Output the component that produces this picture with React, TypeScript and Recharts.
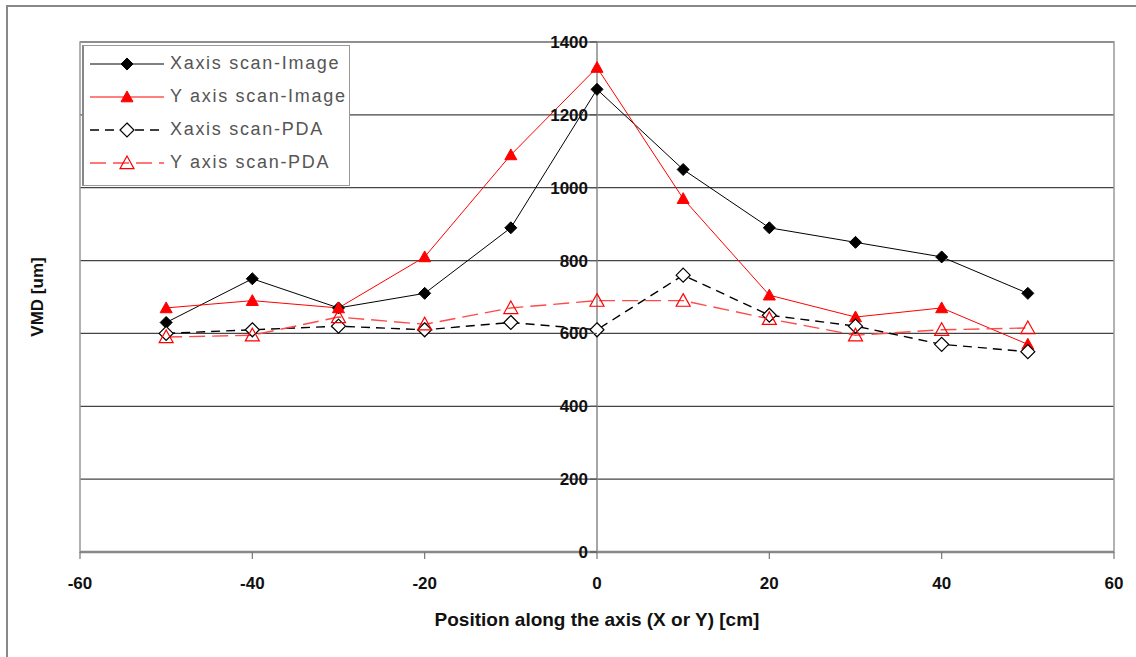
import React from 'react';
import {
  LineChart,
  Line,
  XAxis,
  YAxis,
  CartesianGrid,
  ReferenceLine,
  ReferenceArea,
} from 'recharts';

const positions = [-50, -40, -30, -20, -10, 0, 10, 20, 30, 40, 50];
const xScanImage = [630, 750, 670, 710, 890, 1270, 1050, 890, 850, 810, 710];
const yScanImage = [670, 690, 670, 810, 1090, 1330, 970, 705, 645, 670, 570];
const xScanPda = [600, 610, 620, 610, 630, 610, 760, 650, 620, 570, 550];
const yScanPda = [590, 595, 645, 625, 670, 690, 690, 640, 595, 610, 615];

const xTicks = [-60, -40, -20, 0, 20, 40, 60];
const yTicks = [0, 200, 400, 600, 800, 1000, 1200, 1400];

const data = positions.map((p, i) => ({
  pos: p,
  xImg: xScanImage[i],
  yImg: yScanImage[i],
  xPda: xScanPda[i],
  yPda: yScanPda[i],
}));

const FONT = '"Liberation Sans", Arial, sans-serif';
const CENTER_X = 597; // pixel of x = 0, where the value axis crosses

const Diamond = ({ cx, cy, filled, size }: any) => {
  if (cx == null || cy == null) return null;
  const r = size;
  return (
    <path
      d={`M${cx},${cy - r}L${cx + r},${cy}L${cx},${cy + r}L${cx - r},${cy}Z`}
      fill={filled ? '#000' : '#fff'}
      stroke="#000"
      strokeWidth={filled ? 1 : 1.2}
    />
  );
};

const Triangle = ({ cx, cy, filled, size }: any) => {
  if (cx == null || cy == null) return null;
  const r = size;
  return (
    <path
      d={`M${cx},${cy - r}L${cx + r},${cy + r * 0.8}L${cx - r},${cy + r * 0.8}Z`}
      fill={filled ? '#ff0000' : 'none'}
      stroke="#ff0000"
      strokeWidth={filled ? 1 : 1.2}
    />
  );
};

const series = [
  { key: 'xImg', name: 'Xaxis scan-Image', color: '#000', dash: undefined, width: 1, shape: 'd', filled: true, size: 6 },
  { key: 'yImg', name: 'Y axis scan-Image', color: '#ff0000', dash: undefined, width: 1, shape: 't', filled: true, size: 6 },
  { key: 'xPda', name: 'Xaxis scan-PDA', color: '#000', dash: '9 6', width: 1.4, shape: 'd', filled: false, size: 7 },
  { key: 'yPda', name: 'Y axis scan-PDA', color: '#ff4a4a', dash: '16 7', width: 1.4, shape: 't', filled: false, size: 7 },
];

const marker = (s: any) => (props: any) =>
  s.shape === 'd' ? (
    <Diamond key={`${s.key}-${props.index}`} cx={props.cx} cy={props.cy} filled={s.filled} size={s.size} />
  ) : (
    <Triangle key={`${s.key}-${props.index}`} cx={props.cx} cy={props.cy} filled={s.filled} size={s.size} />
  );

const LegendBox = () => (
  <div
    style={{
      position: 'absolute',
      left: 82,
      top: 45,
      width: 268,
      height: 141,
      border: '1px solid #999',
      borderLeft: '2px solid #888',
      background: '#fff',
      boxSizing: 'border-box',
      fontFamily: FONT,
    }}
  >
    {series.map((s) => (
      <div key={s.key} style={{ display: 'flex', alignItems: 'center', height: 33, marginTop: s.key === 'xImg' ? 1 : 0 }}>
        <svg width={80} height={20} style={{ marginLeft: 6 }}>
          <line x1={0} y1={10} x2={74} y2={10} stroke={s.color} strokeWidth={s.width} strokeDasharray={s.dash} />
          {s.shape === 'd' ? (
            <Diamond cx={37} cy={10} filled={s.filled} size={s.size} />
          ) : (
            <Triangle cx={37} cy={10} filled={s.filled} size={s.size} />
          )}
        </svg>
        <span style={{ fontSize: 18, color: '#555', letterSpacing: 1.7, marginLeft: 0 }}>{s.name}</span>
      </div>
    ))}
  </div>
);

const YTick = ({ y, payload }: any) => (
  <g>
    <line x1={CENTER_X - 7} y1={y} x2={CENTER_X} y2={y} stroke="#555" strokeWidth={1.2} />
    <text x={CENTER_X - 9} y={y} dy={6} textAnchor="end" fontSize={17} fontWeight="bold" fontFamily={FONT} fill="#111">
      {payload.value}
    </text>
  </g>
);

export default function App() {
  return (
    <div
      style={{
        position: 'absolute',
        left: 0,
        top: 0,
        width: 1136,
        height: 657,
        background: '#fff',
        overflow: 'hidden',
      }}
    >
      <div
        style={{
          position: 'absolute',
          left: 6,
          top: 5,
          width: 1140,
          height: 660,
          borderTop: '2px solid #888',
          borderLeft: '2px solid #888',
        }}
      />
      <LineChart
        width={1136}
        height={657}
        data={data}
        margin={{ top: 42, right: 22, bottom: 35, left: 0 }}
        style={{ position: 'absolute', left: 0, top: 0 }}
      >
        <CartesianGrid vertical={false} stroke="#444" strokeWidth={1.3} />
        <ReferenceArea x1={-60} x2={60} y1={0} y2={1400} fill="none" stroke="#999" strokeWidth={1.5} ifOverflow="visible" />
        <ReferenceLine x={0} stroke="#888" strokeWidth={1.5} />
        <XAxis
          dataKey="pos"
          type="number"
          domain={[-60, 60]}
          ticks={xTicks}
          height={70}
          axisLine={{ stroke: '#888', strokeWidth: 2.5 }}
          tickLine={{ stroke: '#777', strokeWidth: 1.2 }}
          tickSize={7}
          tickMargin={18}
          tick={{ fontSize: 17, fontFamily: FONT, fill: '#111', fontWeight: 'bold' }}
          label={{
            value: 'Position along the axis (X or Y) [cm]',
            position: 'insideBottom',
            offset: -4,
            fontSize: 19,
            fontWeight: 'bold',
            fontFamily: FONT,
            fill: '#111',
          }}
        />
        <YAxis
          type="number"
          domain={[0, 1400]}
          ticks={yTicks}
          width={80}
          axisLine={false}
          tickLine={false}
          tick={<YTick />}
          label={{
            value: 'VMD [um]',
            angle: -90,
            position: 'insideLeft',
            dx: 32,
            fontSize: 17,
            fontWeight: 'bold',
            fontFamily: FONT,
            fill: '#111',
            style: { textAnchor: 'middle' },
          }}
        />
        {series.map((s) => (
          <Line
            key={s.key}
            dataKey={s.key}
            name={s.name}
            stroke={s.color}
            strokeWidth={s.width}
            strokeDasharray={s.dash}
            dot={marker(s)}
            activeDot={false}
            isAnimationActive={false}
          />
        ))}
      </LineChart>
      <LegendBox />
    </div>
  );
}
